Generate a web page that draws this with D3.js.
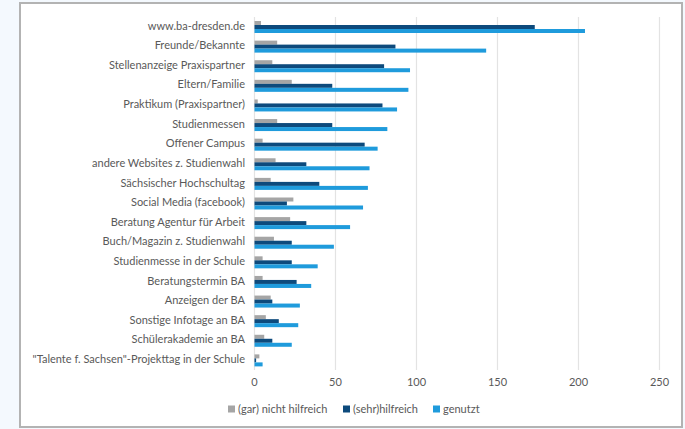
<!DOCTYPE html>
<html>
<head>
<meta charset="utf-8">
<script src="https://cdn.jsdelivr.net/npm/d3@7"></script>
<style>
  body { margin: 0; background: #f4f9fe; }
  svg { display: block; }
  text { font-family: Lato, "Open Sans", sans-serif; fill: #595959; }
</style>
</head>
<body>
<svg id="chart" width="685" height="429"></svg>
<script>
const categories = [
  'www.ba-dresden.de', 'Freunde/Bekannte', 'Stellenanzeige Praxispartner',
  'Eltern/Familie', 'Praktikum (Praxispartner)', 'Studienmessen',
  'Offener Campus', 'andere Websites z. Studienwahl', 'Sächsischer Hochschultag',
  'Social Media (facebook)', 'Beratung Agentur für Arbeit', 'Buch/Magazin z. Studienwahl',
  'Studienmesse in der Schule', 'Beratungstermin BA', 'Anzeigen der BA',
  'Sonstige Infotage an BA', 'Schülerakademie an BA',
  '"Talente f. Sachsen"-Projekttag in der Schule'
];
const nichtHilfreich = [4, 14, 11, 23, 2, 14, 5, 13, 10, 24, 22, 12, 5, 5, 10, 7, 6, 3];
const hilfreich = [173, 87, 80, 48, 79, 48, 68, 32, 40, 20, 32, 23, 23, 26, 11, 15, 11, 1];
const genutzt = [204, 143, 96, 95, 88, 82, 76, 71, 70, 67, 59, 49, 39, 35, 28, 27, 23, 5];
const seriesNames = ['(gar) nicht hilfreich', '(sehr)hilfreich', 'genutzt'];
const seriesColors = ['#a5a5a5', '#0d4a7c', '#1f9bdc'];
const xTicks = [0, 50, 100, 150, 200, 250];

const svg = d3.select('#chart');

// white chart area with grey frame
svg.append('rect')
  .attr('x', 20).attr('y', 3).attr('width', 662).attr('height', 424)
  .attr('fill', '#fff').attr('stroke', '#b3b3b3').attr('stroke-width', 2);

const x = d3.scaleLinear().domain([0, 250]).range([254.5, 659.5]);
const y = d3.scaleBand().domain(categories).range([17, 370]);
const inner = d3.scaleBand().domain([0, 1, 2]).range([4, 16]);

// gridlines
svg.append('g').selectAll('line')
  .data(xTicks).enter()
  .append('line')
  .attr('x1', d => x(d)).attr('x2', d => x(d))
  .attr('y1', 17).attr('y2', 370)
  .attr('stroke', '#e3e3e3').attr('stroke-width', 1.2);

// x axis labels
svg.append('g').selectAll('text')
  .data(xTicks).enter()
  .append('text')
  .attr('x', d => x(d)).attr('y', 386)
  .attr('text-anchor', 'middle')
  .attr('font-size', 11)
  .text(d => d);

// category labels
svg.append('g').selectAll('text')
  .data(categories).enter()
  .append('text')
  .attr('x', 245)
  .attr('y', d => y(d) + y.bandwidth() / 2 - 1)
  .attr('dy', '0.35em')
  .attr('text-anchor', 'end')
  .attr('font-size', 11)
  .text(d => d);

// bars
const allSeries = [nichtHilfreich, hilfreich, genutzt];
allSeries.forEach((vals, s) => {
  svg.append('g').selectAll('rect')
    .data(vals).enter()
    .append('rect')
    .attr('x', x(0))
    .attr('y', (d, i) => y(categories[i]) + inner(s))
    .attr('width', d => x(d) - x(0))
    .attr('height', inner.bandwidth())
    .attr('fill', seriesColors[s]);
});

// legend
const legendX = [228, 343, 433];
const legend = svg.append('g').selectAll('g')
  .data(seriesNames).enter()
  .append('g')
  .attr('transform', (d, i) => `translate(${legendX[i]},409)`);
legend.append('rect')
  .attr('x', 0).attr('y', -3.5).attr('width', 7).attr('height', 7)
  .attr('fill', (d, i) => seriesColors[i]);
legend.append('text')
  .attr('x', 10).attr('y', 0).attr('dy', '0.35em')
  .attr('font-size', 11)
  .text(d => d);
</script>
</body>
</html>
